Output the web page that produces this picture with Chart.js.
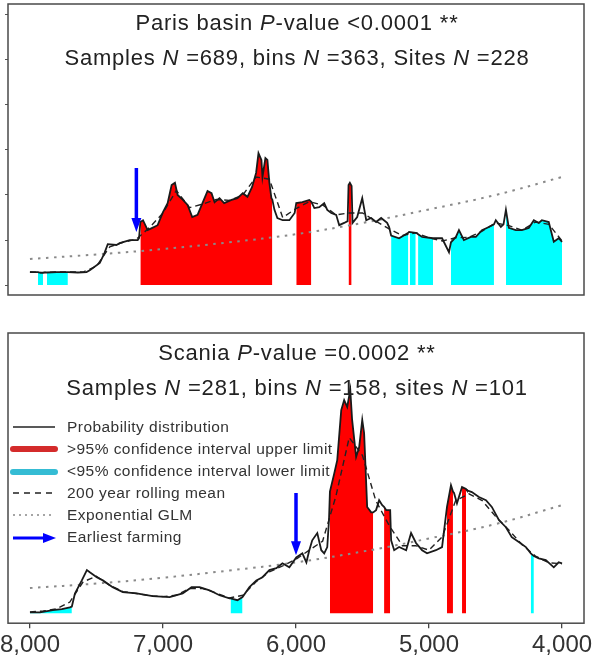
<!DOCTYPE html>
<html>
<head>
<meta charset="utf-8">
<script src="https://cdn.jsdelivr.net/npm/chart.js@4.4.1/dist/chart.umd.min.js"></script>
<style>
  body { margin: 0; background: #fff; font-family: Arial, "Liberation Sans", sans-serif; }
  #wrap { position: relative; width: 600px; height: 664px; overflow: hidden; }
  canvas { position: absolute; left: 0; }
  .title { position: absolute; left: 8px; width: 578px; text-align: center; font-size: 22px; letter-spacing: 0.8px; line-height: 35px; color: #222; }
  .legend { position: absolute; left: 67px; top: 416px; font-size: 15.5px; letter-spacing: 0.45px; line-height: 22px; color: #333; }
</style>
</head>
<body>
<div id="wrap">
  <canvas id="paris" width="600" height="300" style="top:0"></canvas>
  <canvas id="scania" width="600" height="364" style="top:300px"></canvas>
  <div class="title" style="top:5px">Paris basin <i>P</i>-value &lt;0.0001 **<br>Samples <i>N</i> =689, bins <i>N</i> =363, Sites <i>N</i> =228</div>
  <div class="title" style="top:335px">Scania <i>P</i>-value =0.0002 **<br>Samples <i>N</i> =281, bins <i>N</i> =158, sites <i>N</i> =101</div>
  <div class="legend">
    Probability distribution<br>
    &gt;95% confidence interval upper limit<br>
    &lt;95% confidence interval lower limit<br>
    200 year rolling mean<br>
    Exponential GLM<br>
    Earliest farming
  </div>
</div>
<script>
// years cal BP, values in arbitrary summed-probability units (1 unit = one y tick)
const yearTicks = [8000, 7000, 6000, 5000, 4000];

const parisYears = [8000, 7940, 7920, 7902, 7890, 7872, 7800, 7715, 7640, 7575, 7550, 7475, 7440, 7415,
  7350, 7325, 7250, 7190, 7180, 7170, 7150, 7115, 7080, 7040, 7000, 6965, 6935, 6910, 6890, 6850, 6815,
  6780, 6740, 6700, 6665, 6635, 6612, 6575, 6540, 6485, 6440, 6400, 6365, 6330, 6300, 6282, 6260, 6252,
  6230, 6215, 6200, 6185, 6178, 6162, 6140, 6100, 6050, 6010, 5998, 5952, 5900, 5885, 5862, 5825, 5788,
  5765, 5735, 5698, 5675, 5638, 5612, 5605, 5595, 5582, 5575, 5540, 5502, 5472, 5435, 5398, 5360, 5315,
  5300, 5285, 5225, 5156, 5150, 5144, 5100, 5090, 5082, 5052, 4970, 4902, 4850, 4835, 4798, 4775, 4738,
  4685, 4648, 4602, 4550, 4512, 4498, 4460, 4440, 4422, 4400, 4348, 4302, 4250, 4212, 4175, 4152, 4100,
  4062, 4025, 4000];
const parisSpd = [0.29, 0.29, 0.27, 0.27, 0.28, 0.28, 0.29, 0.29, 0.28, 0.29, 0.33, 0.49, 0.71, 0.91,
  0.89, 0.93, 1.00, 1.00, 1.04, 1.40, 1.44, 1.22, 1.27, 1.33, 1.62, 1.82, 2.22, 2.27, 2.00, 1.89, 1.78,
  1.51, 1.56, 1.84, 2.09, 2.04, 1.84, 1.93, 1.82, 1.89, 1.93, 2.04, 1.96, 2.18, 2.49, 2.93, 2.78, 2.40,
  2.82, 2.78, 2.27, 1.93, 1.90, 1.67, 1.49, 1.44, 1.44, 1.60, 1.82, 1.84, 1.89, 1.85, 1.71, 1.73, 1.82,
  1.67, 1.60, 1.56, 1.33, 1.38, 1.42, 2.22, 2.27, 2.20, 1.38, 1.51, 1.93, 1.44, 1.49, 1.40, 1.49, 1.38,
  1.29, 1.10, 1.04, 1.16, 1.18, 1.18, 1.16, 1.15, 1.13, 1.07, 1.04, 1.04, 0.73, 0.95, 1.07, 1.22, 1.00,
  1.07, 1.07, 1.22, 1.29, 1.35, 1.44, 1.29, 1.35, 1.67, 1.27, 1.22, 1.22, 1.27, 1.44, 1.38, 1.44, 1.40,
  0.96, 1.04, 0.96];
const parisUpper = [[7170, 6178], [5998, 5885], [5605, 5582]];
const parisLower = [[7940, 7902], [7872, 7715], [5285, 5156], [5144, 5100], [5082, 4970], [4835, 4512], [4422, 4000]];

const meanYears = [8000, 7900, 7800, 7700, 7600, 7500, 7400, 7300, 7200, 7100, 7000, 6900, 6800, 6700,
  6600, 6500, 6400, 6300, 6200, 6100, 6000, 5900, 5800, 5700, 5600, 5500, 5400, 5300, 5200, 5100, 5000,
  4900, 4800, 4700, 4600, 4500, 4400, 4300, 4200, 4100, 4000];
const parisMean = [0.29, 0.28, 0.29, 0.29, 0.29, 0.42, 0.85, 0.95, 1.02, 1.28, 1.60, 2.10, 1.72, 1.80,
  1.90, 1.88, 2.00, 2.40, 2.35, 1.50, 1.70, 1.85, 1.78, 1.56, 1.60, 1.60, 1.42, 1.25, 1.10, 1.16, 1.05,
  0.98, 1.05, 1.06, 1.20, 1.38, 1.32, 1.22, 1.40, 1.35, 0.98];

const glmYears = [8000, 7500, 7000, 6500, 6000, 5500, 5000, 4500, 4000];
const parisGlm = [0.58, 0.68, 0.80, 0.95, 1.13, 1.38, 1.68, 2.00, 2.40];

const parisFarming = 7200;
const parisArrow = [2.6, 1.18];

const scaniaYears = [8000, 7925, 7828, 7760, 7700, 7685, 7662, 7610, 7572, 7550, 7498, 7452, 7378, 7302,
  7198, 7078, 6950, 6852, 6785, 6725, 6650, 6575, 6500, 6492, 6440, 6402, 6350, 6298, 6252, 6200, 6148,
  6102, 6050, 5998, 5952, 5922, 5900, 5878, 5840, 5810, 5788, 5765, 5752, 5745, 5712, 5690, 5660, 5638,
  5615, 5592, 5578, 5548, 5525, 5502, 5488, 5465, 5435, 5420, 5398, 5375, 5352, 5338, 5322, 5292, 5285,
  5262, 5225, 5172, 5135, 5098, 5052, 5015, 4948, 4902, 4865, 4835, 4820, 4812, 4790, 4752, 4722, 4715,
  4678, 4625, 4572, 4528, 4475, 4422, 4378, 4325, 4272, 4235, 4212, 4175, 4122, 4062, 4025, 4000];
const scaniaSpd = [0.02, 0.02, 0.07, 0.09, 0.13, 0.15, 0.44, 0.73, 0.96, 0.91, 0.80, 0.73, 0.58, 0.47,
  0.44, 0.38, 0.36, 0.44, 0.58, 0.58, 0.51, 0.40, 0.33, 0.33, 0.29, 0.36, 0.58, 0.73, 0.80, 0.96, 1.00,
  1.11, 1.02, 1.24, 1.33, 1.13, 1.40, 1.62, 1.78, 1.40, 1.33, 1.47, 2.07, 2.70, 3.11, 3.40, 4.51, 4.73,
  4.58, 4.96, 4.29, 3.47, 3.69, 4.29, 4.00, 2.36, 2.24, 2.24, 2.29, 2.51, 2.40, 2.36, 2.29, 2.29, 1.62,
  1.40, 1.47, 1.40, 1.78, 1.56, 1.40, 1.33, 1.40, 1.47, 2.36, 2.84, 2.70, 2.67, 2.44, 2.80, 2.76, 2.73,
  2.69, 2.58, 2.51, 2.36, 2.07, 1.91, 1.69, 1.58, 1.47, 1.33, 1.27, 1.22, 1.18, 1.02, 1.13, 1.11];
const scaniaUpper = [[5745, 5420], [5338, 5292], [4865, 4820], [4752, 4722]];
const scaniaLower = [[8000, 7685], [6492, 6402], [4235, 4212]];
const scaniaMean = [0.03, 0.05, 0.10, 0.25, 0.70, 0.82, 0.62, 0.48, 0.44, 0.39, 0.37, 0.40, 0.55, 0.55,
  0.45, 0.34, 0.40, 0.70, 0.92, 1.05, 1.20, 1.40, 1.60, 2.60, 3.90, 3.50, 2.50, 1.95, 1.50, 1.50, 1.40,
  1.70, 2.50, 2.65, 2.50, 2.15, 1.85, 1.52, 1.27, 1.12, 1.10];
const scaniaGlm = [0.56, 0.66, 0.79, 0.95, 1.13, 1.37, 1.66, 1.98, 2.40];

const scaniaFarming = 6000;
const scaniaArrow = [2.67, 1.29];

const points = (xs, ys) => xs.map((x, i) => ({ x, y: ys[i] }));
const inRanges = (xs, ys, ranges) => xs.map((x, i) => ({
  x, y: ranges.some(([a, b]) => x <= a && x >= b) ? ys[i] : null
}));

const framePlugin = {
  id: 'frame',
  afterDraw(chart) {
    const { ctx, chartArea: a } = chart;
    ctx.save();
    ctx.strokeStyle = '#4a4a4a';
    ctx.lineWidth = 1.5;
    ctx.strokeRect(a.left, a.top, a.right - a.left, a.bottom - a.top);
    ctx.restore();
  }
};

const arrowPlugin = {
  id: 'farming',
  afterDatasetsDraw(chart, args, opts) {
    const x = chart.scales.x.getPixelForValue(opts.year);
    const y0 = chart.scales.y.getPixelForValue(opts.values[0]);
    const y1 = chart.scales.y.getPixelForValue(opts.values[1]);
    const ctx = chart.ctx;
    ctx.save();
    ctx.strokeStyle = ctx.fillStyle = '#0000ff';
    ctx.lineWidth = 3.5;
    ctx.beginPath();
    ctx.moveTo(x, y0);
    ctx.lineTo(x, y1 - 12);
    ctx.stroke();
    ctx.beginPath();
    ctx.moveTo(x - 5, y1 - 14);
    ctx.lineTo(x + 5, y1 - 14);
    ctx.lineTo(x, y1);
    ctx.closePath();
    ctx.fill();
    ctx.restore();
  }
};

// legend keys for the Scania panel (text is html)
const legendKeys = {
  id: 'legendKeys',
  afterDraw(chart) {
    const ctx = chart.ctx;
    const x0 = 13, x1 = 55;
    const rows = [127, 149, 172, 193, 215, 238];
    const line = (y, color, width, dash, cap) => {
      ctx.save();
      ctx.strokeStyle = color;
      ctx.lineWidth = width;
      ctx.lineCap = cap || 'butt';
      ctx.setLineDash(dash || []);
      ctx.beginPath();
      ctx.moveTo(x0, y);
      ctx.lineTo(x1, y);
      ctx.stroke();
      ctx.restore();
    };
    line(rows[0], '#222', 1.5);
    line(rows[1], '#d42b2b', 6, [], 'round');
    line(rows[2], '#35bcd4', 6, [], 'round');
    line(rows[3], '#222', 1.4, [6, 5]);
    line(rows[4], '#888', 1.6, [2, 4]);
    ctx.save();
    ctx.strokeStyle = ctx.fillStyle = '#0000ff';
    ctx.lineWidth = 3;
    ctx.beginPath();
    ctx.moveTo(x0, rows[5]);
    ctx.lineTo(x1 - 10, rows[5]);
    ctx.stroke();
    ctx.beginPath();
    ctx.moveTo(x1 - 12, rows[5] - 5);
    ctx.lineTo(x1 + 1, rows[5]);
    ctx.lineTo(x1 - 12, rows[5] + 5);
    ctx.closePath();
    ctx.fill();
    ctx.restore();
  }
};

function datasets(years, spd, upper, lower, mYears, mean, glm) {
  return [
    { data: points(years, spd), borderColor: '#1a1a1a', borderWidth: 1.8, order: 1 },
    { data: points(mYears, mean), borderColor: '#222', borderWidth: 1.4, borderDash: [6, 4], order: 2 },
    { data: points(glmYears, glm), borderColor: '#8a8a8a', borderWidth: 2, borderDash: [2.5, 5.5], tension: 0.4, order: 3 },
    { data: inRanges(years, spd, upper), borderWidth: 0, borderColor: 'rgba(0,0,0,0)', backgroundColor: '#ff0000', fill: 'origin', order: 4 },
    { data: inRanges(years, spd, lower), borderWidth: 0, borderColor: 'rgba(0,0,0,0)', backgroundColor: '#00ffff', fill: 'origin', order: 5 }
  ];
}

const xBase = { type: 'linear', min: 3835, max: 8165, reverse: true };

new Chart(document.getElementById('paris'), {
  type: 'line',
  data: { datasets: datasets(parisYears, parisSpd, parisUpper, parisLower, meanYears, parisMean, parisGlm) },
  options: {
    responsive: false,
    animation: false,
    layout: { padding: { left: 5, top: 4, right: 16, bottom: 5 } },
    elements: { point: { radius: 0 }, line: { spanGaps: false } },
    plugins: { legend: { display: false }, tooltip: { enabled: false },
      farming: { year: parisFarming, values: parisArrow } },
    scales: {
      x: { ...xBase, display: false },
      y: {
        min: -0.22, max: 6.24,
        ticks: { display: false, stepSize: 1, includeBounds: false },
        grid: { drawOnChartArea: false, tickLength: 3, color: '#555' },
        border: { display: false }
      }
    }
  },
  plugins: [arrowPlugin, framePlugin]
});

new Chart(document.getElementById('scania'), {
  type: 'line',
  data: { datasets: datasets(scaniaYears, scaniaSpd, scaniaUpper, scaniaLower, meanYears, scaniaMean, scaniaGlm) },
  options: {
    responsive: false,
    animation: false,
    layout: { padding: { left: 8, top: 33, right: 16, bottom: 1 } },
    elements: { point: { radius: 0 }, line: { spanGaps: false } },
    plugins: { legend: { display: false }, tooltip: { enabled: false },
      farming: { year: scaniaFarming, values: scaniaArrow } },
    scales: {
      x: {
        ...xBase,
        afterBuildTicks: s => { s.ticks = yearTicks.map(v => ({ value: v })); },
        afterFit: s => { s.paddingLeft = 0; s.paddingRight = 0; },
        ticks: { font: { size: 24, family: 'Arial' }, color: '#333', padding: 3, maxRotation: 0, autoSkip: false,
          callback: v => v.toLocaleString('en-US') },
        grid: { drawOnChartArea: false, tickLength: 5, color: '#444', lineWidth: 1.3 },
        border: { display: false }
      },
      y: { display: false, min: -0.22, max: 6.22 }
    }
  },
  plugins: [arrowPlugin, legendKeys, framePlugin]
});
</script>
</body>
</html>
